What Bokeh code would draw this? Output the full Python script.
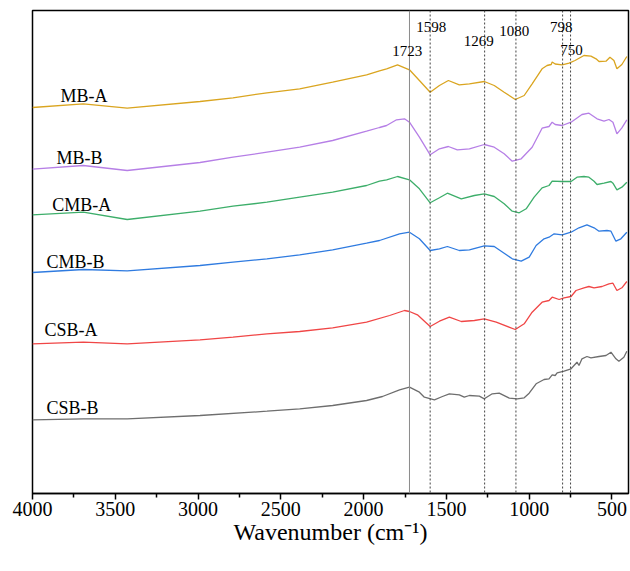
from bokeh.plotting import figure
from bokeh.models import Range1d, FixedTicker, Span, Label
from bokeh.embed import file_html
from bokeh.resources import INLINE

# ---------------- data ----------------
mba_x = [4000, 3693, 3428, 2988, 2789, 2584, 2386, 2187, 1982, 1904, 1861, 1795, 1723, 1663, 1598,
         1542, 1488, 1422, 1361, 1271, 1211, 1151, 1084, 1030, 982, 922, 892, 867, 861, 843, 801,
         759, 723, 669, 627, 596, 578, 536, 512, 488, 470, 440, 410]
mba_y = [386, 389.7, 385.3, 392, 395.7, 400.7, 404.7, 411.3, 418.7, 422.7, 424.7, 428.7, 423.7, 413, 401.3,
         408, 413, 408.7, 409.7, 412, 408, 401.3, 394, 398, 409.7, 424.7, 428, 429, 431.5, 429.5, 428.7,
         430.3, 433, 438, 437.3, 434.7, 432, 432.3, 436.3, 433, 424.7, 429, 437]

mbb_x = [4000, 3693, 3428, 2988, 2789, 2584, 2386, 2187, 1982, 1904, 1861, 1801, 1753, 1723, 1663, 1598,
         1542, 1488, 1434, 1361, 1271, 1211, 1151, 1102, 1048, 982, 922, 880, 861, 843, 801, 747,
         681, 639, 590, 548, 518, 494, 470, 440, 410]
mbb_y = [324.3, 328, 323, 331, 336.3, 341.3, 346.3, 353, 362.3, 366, 368, 373.7, 374.7, 371.3, 356.3, 338.7,
         344.7, 347, 343.7, 344.7, 349, 346.3, 339.7, 332.3, 334.7, 346.3, 365.3, 367, 371.3, 369, 368, 371.3,
         379, 380.3, 374.7, 372.3, 374, 371.3, 359.7, 365.7, 373.7]

cmba_x = [4000, 3693, 3428, 2988, 2789, 2584, 2386, 2187, 1982, 1904, 1861, 1795, 1723, 1663, 1598,
          1542, 1494, 1410, 1331, 1271, 1211, 1151, 1102, 1060, 1018, 970, 922, 880, 861, 801, 747,
          711, 669, 639, 608, 590, 548, 506, 494, 470, 440, 410]
cmba_y = [278.7, 281.3, 274, 282.3, 287.3, 291.3, 296.3, 301.3, 308, 312.3, 313.7, 317, 313.7, 304.7, 290.7,
          295.7, 300.3, 294.7, 298, 299.7, 297, 289.7, 282.3, 280.7, 284.7, 296.3, 305.7, 308, 312.3, 312, 312,
          316.3, 317, 316.3, 312.3, 309, 310.3, 312, 310.3, 303.7, 306.3, 311.3]

cmbb_x = [4000, 3693, 3428, 2988, 2789, 2584, 2386, 2187, 1982, 1904, 1783, 1723, 1663, 1598,
          1542, 1494, 1422, 1361, 1271, 1211, 1151, 1102, 1048, 1000, 958, 910, 880, 849, 801, 747,
          699, 651, 608, 578, 530, 506, 476, 446, 410]
cmbb_y = [221, 224, 222.7, 228, 231.3, 234.7, 238.7, 243.7, 250.3, 253, 259.7, 261.3, 254.7, 243,
          244.7, 247, 243, 243.7, 247.7, 247, 240.3, 234.7, 232.3, 236.3, 248, 254.7, 256.3, 259.7, 258.7, 261.3,
          265.7, 268.7, 265.7, 262.3, 263, 262.3, 252.3, 254.7, 261.3]

csba_x = [4000, 3693, 3428, 2988, 2789, 2584, 2386, 2187, 1982, 1843, 1753, 1723, 1675, 1598,
          1542, 1482, 1410, 1331, 1271, 1199, 1084, 1030, 982, 922, 880, 861, 819, 789, 747,
          717, 669, 639, 608, 560, 518, 494, 470, 440, 410]
csba_y = [149.7, 151.3, 149.7, 153.7, 156.3, 159.7, 162, 165.7, 171.3, 178, 183, 182, 178.7, 167,
          172.3, 176.3, 172, 173, 174.7, 171.3, 164, 169.7, 181.3, 191.3, 193, 196.3, 194, 195.7, 197,
          203, 205.7, 207, 205.7, 207, 209.7, 210.3, 203, 205.7, 212]

csbb_x = [4000, 3693, 3428, 2988, 2584, 2386, 2187, 1982, 1886, 1783, 1723, 1663, 1633, 1572,
          1524, 1482, 1422, 1392, 1361, 1301, 1271, 1223, 1181, 1120, 1072, 1030, 1000, 958, 910,
          880, 861, 843, 831, 789, 747, 729, 711, 699, 681, 651, 627, 578, 536, 506, 476, 458, 428, 410]
csbb_y = [73.7, 74.7, 74.7, 78, 82.3, 84.7, 88, 93, 97, 103.7, 106.3, 101.3, 96.3, 93.7,
          97, 99.7, 98.7, 96.3, 98, 97.3, 94.7, 99.7, 100.3, 95.3, 94.7, 95.7, 100.3, 109.7, 114,
          114.7, 118.7, 118, 120.7, 122.3, 124.7, 128, 131.3, 128, 134.7, 137, 135.7, 137, 138, 141.3, 134.7, 132.3, 136.3, 142.3]

series_names = ["MB-A", "MB-B", "CMB-A", "CMB-B", "CSB-A", "CSB-B"]
series_colors = ["#DAA520", "#B67FE6", "#3DAE6A", "#2F7BE0", "#F04646", "#6E6E6E"]
series_x = [mba_x, mbb_x, cmba_x, cmbb_x, csba_x, csbb_x]
series_y = [mba_y, mbb_y, cmba_y, cmbb_y, csba_y, csbb_y]

# series label anchors (left edge, middle)
name_x = [3831, 3855, 3881, 3916, 3928, 3916]
name_y = [398, 336, 288.7, 232, 163.7, 85.7]

peaks = [1723, 1598, 1269, 1080, 798, 750]
peak_labels = ["1723", "1598", "1269", "1080", "798", "750"]
peak_label_x = [1737, 1592, 1305, 1090, 806, 745]
peak_label_y = [443, 466.3, 452.3, 463, 467, 444]

x_ticks = [4000, 3500, 3000, 2500, 2000, 1500, 1000, 500]
x_minor = [3750, 3250, 2750, 2250, 1750, 1250, 750]

FONT = "Liberation Serif"

p = figure(width=630, height=560, output_backend="svg", toolbar_location=None,
           x_range=Range1d(4000, 400), y_range=Range1d(0, 483),
           y_axis_location=None, min_border_left=32, min_border_right=2,
           min_border_top=10, min_border_bottom=67)
p.xgrid.visible = False
p.ygrid.visible = False
p.outline_line_color = "black"
p.outline_line_width = 1.5
p.background_fill_color = "white"
p.border_fill_color = "white"

ax = p.xaxis[0]
ax.ticker = FixedTicker(ticks=x_ticks, minor_ticks=x_minor)
ax.axis_line_width = 1.5
ax.major_tick_in = 0
ax.major_tick_out = 6
ax.major_tick_line_width = 1.5
ax.minor_tick_in = 0
ax.minor_tick_out = 4
ax.minor_tick_line_width = 1.5
ax.major_label_text_font = FONT
ax.major_label_text_font_size = "20px"
ax.major_label_text_color = "black"
ax.major_label_standoff = 2
ax.axis_label = "Wavenumber (cm\u207b\u00b9)"
ax.axis_label_text_font = FONT
ax.axis_label_text_font_size = "24px"
ax.axis_label_text_font_style = "normal"
ax.axis_label_text_color = "black"
ax.axis_label_standoff = 0

for i, wn in enumerate(peaks):
    if i == 0:
        s = Span(location=wn, dimension="height", line_color="#8a8a8a", line_width=1)
    else:
        s = Span(location=wn, dimension="height", line_color="#444444", line_width=1, line_dash="2 2")
    p.add_layout(s)

for xs, ys, c in zip(series_x, series_y, series_colors):
    p.line(xs, ys, line_color=c, line_width=1.3)

for nm, nx, ny in zip(series_names, name_x, name_y):
    p.add_layout(Label(x=nx, y=ny, text=nm, text_font=FONT, text_font_size="18px",
                       text_align="left", text_baseline="middle", text_color="black"))

for t, lx, ly in zip(peak_labels, peak_label_x, peak_label_y):
    p.add_layout(Label(x=lx, y=ly, text=t, text_font=FONT, text_font_size="15px",
                       text_align="center", text_baseline="middle", text_color="black"))

open("out.html", "w").write(file_html(p, INLINE))
